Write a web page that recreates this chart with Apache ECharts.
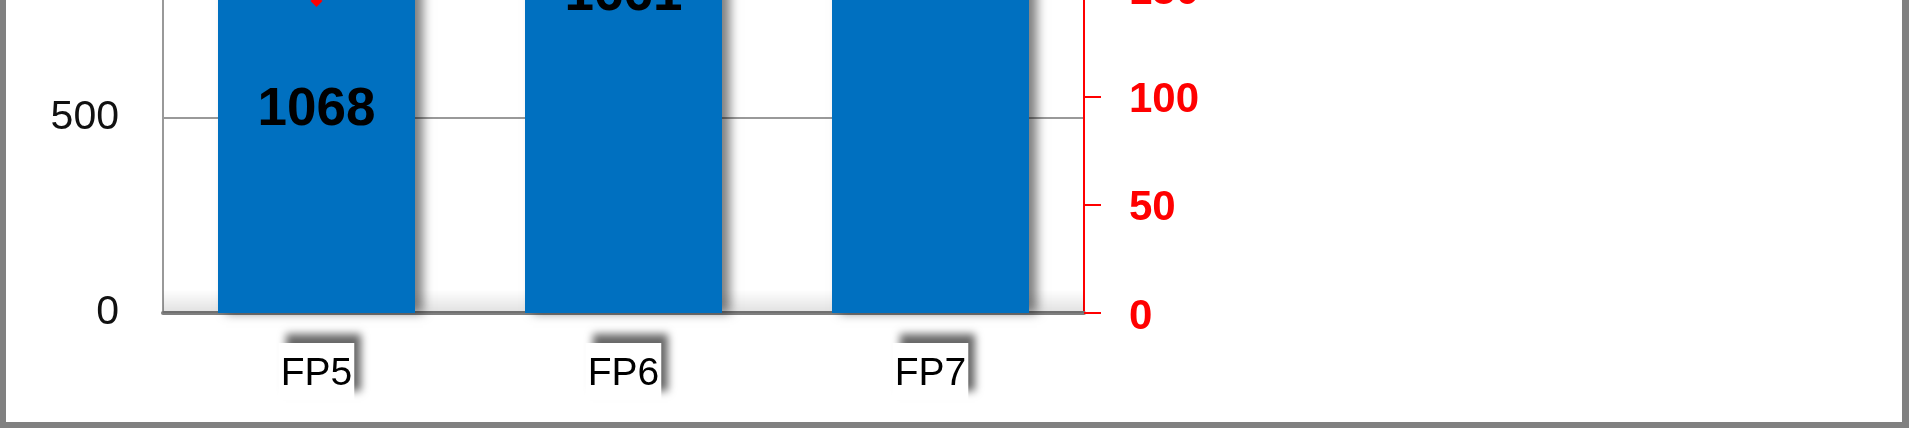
<!DOCTYPE html>
<html>
<head>
<meta charset="utf-8">
<script src="https://cdn.jsdelivr.net/npm/echarts@6/dist/echarts.min.js"></script>
<style>
    html, body { margin: 0; padding: 0; background: #fff; overflow: hidden; }
    #view { position: relative; width: 1909px; height: 428px; overflow: hidden; }
    /* the chart is taller than the window, only its bottom part is shown */
    #chart { position: absolute; left: 0; top: -700px; width: 1909px; height: 1128px; }
    #frame {
        position: absolute; left: 0; top: 0; width: 1909px; height: 428px; box-sizing: border-box;
        border-left: 6px solid #808080; border-right: 7px solid #808080; border-bottom: 6px solid #808080;
        pointer-events: none;
    }
</style>
</head>
<body>
<div id="view">
    <div id="chart"></div>
    <div id="frame"></div>
</div>
<script>
    let categories = ['FP5', 'FP6', 'FP7'];
    let bar_values = [1068, 1661, 2046];
    let line_values = [144, 240, 290];

    let font = '"Liberation Sans", Arial, sans-serif';

    let draw_chart = function () {
        let container = echarts.init(document.getElementById('chart'));
        let option = {
            animation: false,
            grid: {
                left: 163,
                right: 825,
                top: 38,
                bottom: 115
            },
            xAxis: {
                type: 'category',
                data: categories,
                axisLine: {lineStyle: {color: '#7f7f7f', width: 4}},
                axisTick: {show: false},
                axisLabel: {
                    margin: 30,
                    color: '#000',
                    fontFamily: font,
                    fontSize: 39,
                    backgroundColor: '#fff',
                    padding: [12, 2, 6, 2],
                    shadowColor: 'rgba(0,0,0,0.6)',
                    shadowBlur: 8,
                    shadowOffsetX: 7,
                    shadowOffsetY: -9
                }
            },
            yAxis: [
                {
                    type: 'value',
                    min: 0,
                    max: 2500,
                    interval: 500,
                    axisLine: {show: true, lineStyle: {color: '#999', width: 2}},
                    axisTick: {show: false},
                    splitLine: {lineStyle: {color: '#999', width: 2}},
                    axisLabel: {
                        margin: 44,
                        color: '#111',
                        fontFamily: font,
                        fontSize: 41
                    }
                },
                {
                    type: 'value',
                    min: 0,
                    max: 450,
                    interval: 50,
                    position: 'right',
                    axisLine: {show: true, lineStyle: {color: '#ff0000', width: 2}},
                    axisTick: {show: true, length: 17, lineStyle: {color: '#ff0000', width: 2}},
                    splitLine: {show: false},
                    axisLabel: {
                        margin: 45,
                        color: '#ff0000',
                        fontWeight: 'bold',
                        fontFamily: font,
                        fontSize: 42,
                        rich: {
                            v: {
                                color: '#ff0000',
                                fontWeight: 'bold',
                                fontFamily: font,
                                fontSize: 42,
                                padding: [8, 0, 0, 0]
                            }
                        },
                        formatter: function (value) {
                            return '{v|' + value + '}';
                        }
                    }
                }
            ],
            series: [
                {
                    name: 'bars',
                    type: 'bar',
                    data: bar_values,
                    barWidth: 197,
                    itemStyle: {
                        color: '#0070c0',
                        shadowColor: 'rgba(0,0,0,0.5)',
                        shadowBlur: 10,
                        shadowOffsetX: 8
                    },
                    label: {
                        show: true,
                        position: 'inside',
                        offset: [0, 6],
                        color: '#000',
                        fontWeight: 'bold',
                        fontFamily: font,
                        fontSize: 53
                    },
                    // light floor shading along the base of the plot
                    markArea: {
                        silent: true,
                        itemStyle: {
                            color: new echarts.graphic.LinearGradient(0, 0, 0, 1, [
                                {offset: 0, color: 'rgba(0,0,0,0)'},
                                {offset: 1, color: 'rgba(0,0,0,0.12)'}
                            ])
                        },
                        data: [[{yAxis: 0, x: 163}, {yAxis: 60, x: 1084}]]
                    },
                    z: 2
                },
                {
                    name: 'line',
                    type: 'line',
                    yAxisIndex: 1,
                    data: line_values,
                    symbol: 'diamond',
                    symbolSize: 12,
                    lineStyle: {color: '#ff0000', width: 3},
                    itemStyle: {color: '#ff0000'},
                    z: 3
                }
            ]
        };
        container.setOption(option, true);
    };

    draw_chart();
</script>
</body>
</html>
